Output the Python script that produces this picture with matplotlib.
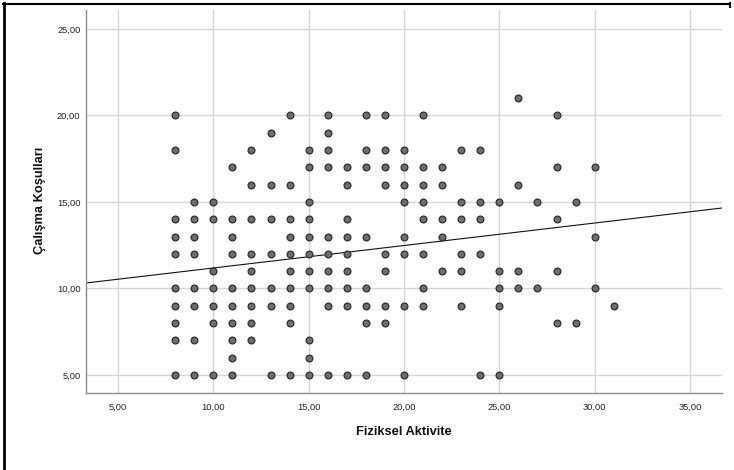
import matplotlib
matplotlib.use("Agg")
import matplotlib.pyplot as plt
from matplotlib.lines import Line2D
import numpy as np

plt.rcParams['font.family'] = ['Liberation Sans', 'DejaVu Sans']

# Data: for each Çalışma Koşulları value, the Fiziksel Aktivite values observed
rows = {
    21: [26],
    20: [8, 14, 16, 18, 19, 21, 28],
    19: [13, 16],
    18: [8, 12, 15, 16, 18, 19, 20, 23, 24],
    17: [11, 15, 16, 17, 18, 19, 20, 21, 22, 28, 30],
    16: [12, 13, 14, 17, 19, 20, 21, 22, 26],
    15: [9, 10, 15, 20, 21, 23, 24, 25, 27, 29],
    14: [8, 9, 10, 11, 12, 13, 14, 15, 17, 21, 22, 23, 24, 28],
    13: [8, 9, 11, 14, 15, 16, 17, 18, 20, 22, 30],
    12: [8, 9, 11, 12, 13, 14, 15, 16, 17, 19, 20, 21, 23, 24],
    11: [10, 12, 14, 15, 16, 17, 19, 22, 23, 25, 26, 28],
    10: [8, 9, 10, 11, 12, 13, 14, 15, 16, 17, 18, 21, 25, 26, 27, 30],
    9: [8, 9, 10, 11, 12, 13, 14, 16, 17, 18, 19, 20, 21, 23, 25, 31],
    8: [8, 10, 11, 12, 14, 18, 19, 28, 29],
    7: [8, 9, 11, 12, 15],
    6: [11, 15],
    5: [8, 9, 10, 11, 13, 14, 15, 16, 17, 18, 20, 24, 25],
}
fit_intercept = 9.88
fit_slope = 0.130

x_ticks = [5, 10, 15, 20, 25, 30, 35]
y_ticks = [5, 10, 15, 20, 25]
x_label = "Fiziksel Aktivite"
y_label = "Çalışma Koşulları"

xs, ys = [], []
for yv, xl in rows.items():
    for xv in xl:
        xs.append(xv)
        ys.append(yv)

fig = plt.figure(figsize=(7.34, 4.70), dpi=100)
ax = fig.add_axes([86/734, 1-393/470, (722-86)/734, (393-10)/470])

xlim = (3.32, 36.68)
ylim = (3.95, 26.1)
ax.set_xlim(*xlim)
ax.set_ylim(*ylim)

ax.set_xticks(x_ticks)
ax.set_yticks(y_ticks)
ax.set_xticklabels([f"{v:.2f}".replace('.', ',') for v in x_ticks])
ax.set_yticklabels([f"{v:.2f}".replace('.', ',') for v in y_ticks])
ax.tick_params(axis='both', length=0, labelsize=6.7, colors='#222222')
ax.tick_params(axis='x', pad=7)
ax.tick_params(axis='y', pad=4)

ax.grid(True, color='#d6d6d6', linewidth=1.0)
ax.set_axisbelow(True)
for s in ['top', 'right']:
    ax.spines[s].set_visible(False)
for s in ['left', 'bottom']:
    ax.spines[s].set_color('#8a8a8a')
    ax.spines[s].set_linewidth(1.0)

lx = np.array(xlim)
ax.plot(lx, fit_intercept + fit_slope * lx, color='#111111', linewidth=0.8, zorder=2)

ax.scatter(xs, ys, s=24, facecolor='#6e6e6e', edgecolor='#2f2f2f', linewidth=0.9, zorder=3)

fig.text(404/734, 1-432/470, x_label, ha='center', va='center', fontsize=9.3, fontweight='bold', color='#111111')
fig.text(40/734, 1-200/470, y_label, ha='center', va='center', rotation=90, fontsize=9.3, fontweight='bold', color='#111111')

# outer frame
fig.add_artist(Line2D([3.5/734, 3.5/734], [0, 1-3/470], color='black', linewidth=2.0, transform=fig.transFigure))
fig.add_artist(Line2D([3/734, 730/734], [1-3.5/470, 1-3.5/470], color='black', linewidth=1.5, transform=fig.transFigure))
fig.add_artist(Line2D([730/734, 730/734], [1-3/470, 1-7/470], color='black', linewidth=1.5, transform=fig.transFigure))

fig.savefig("out.png", dpi=100)
